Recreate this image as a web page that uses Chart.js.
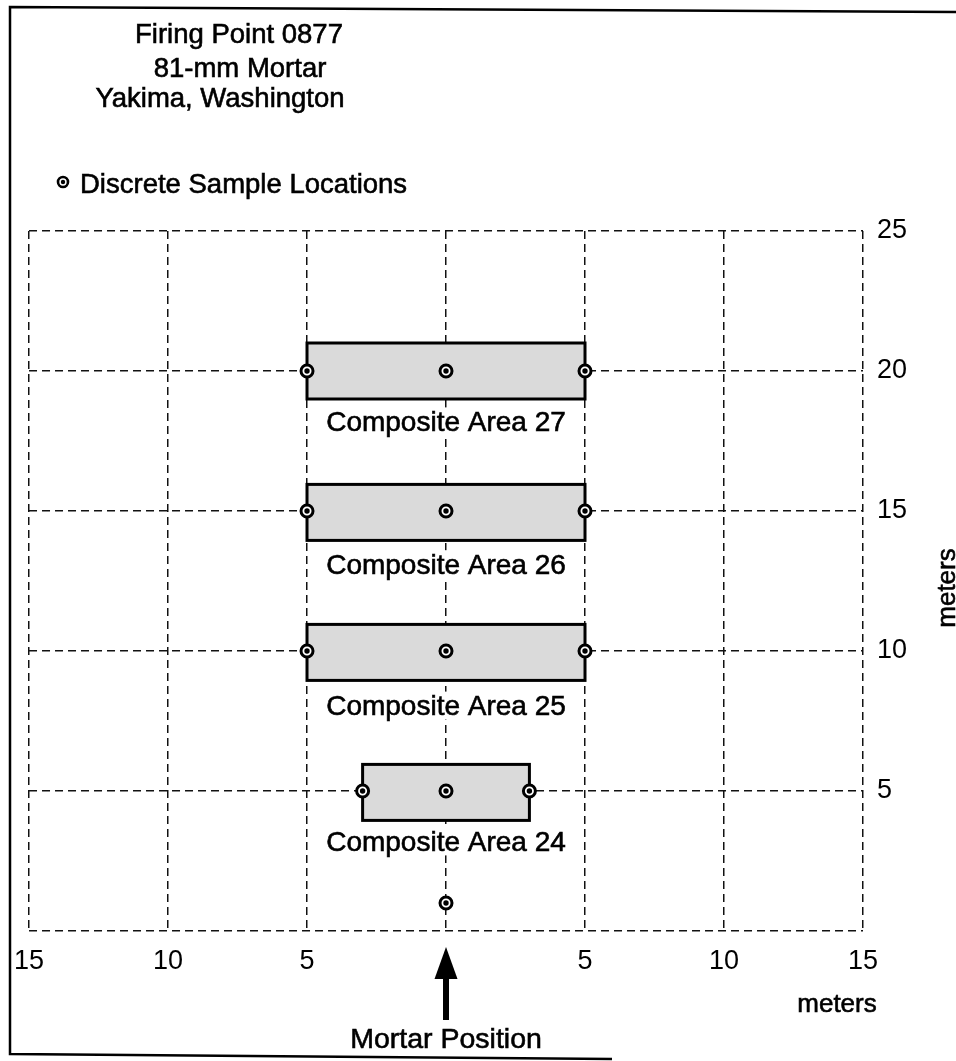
<!DOCTYPE html>
<html>
<head>
<meta charset="utf-8">
<script src="https://cdn.jsdelivr.net/npm/chart.js@4.4.1/dist/chart.umd.min.js"></script>
<style>
  html, body { margin: 0; padding: 0; background: #fff; }
  #wrap { width: 956px; height: 1061px; position: relative; }
</style>
</head>
<body>
<div id="wrap"><canvas id="myChart"></canvas></div>
<script>
// Discrete sample locations (meters: cross-range, down-range from the mortar)
const sampleX = [0, -3, 0, 3, -5, 0, 5, -5, 0, 5, -5, 0, 5];
const sampleY = [1, 5, 5, 5, 10, 10, 10, 15, 15, 15, 20, 20, 20];

// Composite sampling areas
const areaNames = ['Composite Area 24', 'Composite Area 25', 'Composite Area 26', 'Composite Area 27'];
const areaXMin = [-3, -5, -5, -5];
const areaXMax = [3, 5, 5, 5];
const areaYMin = [3.95, 8.95, 13.95, 19.0];
const areaYMax = [5.95, 10.95, 15.95, 21.0];
const areaLabelY = [3.2, 8.05, 13.1, 18.2];

// Axes
const xTicks = [-15, -10, -5, 0, 5, 10, 15];
const yTicks = [0, 5, 10, 15, 20, 25];
const mortarX = 0;

const titleLines = ['Firing Point 0877', '81-mm Mortar', 'Yakima, Washington'];
const legendText = 'Discrete Sample Locations';

const FONT = "'Liberation Sans', Arial, Helvetica, sans-serif";

function drawTarget(ctx, cx, cy, r, lw, dot) {
    ctx.beginPath();
    ctx.arc(cx, cy, r, 0, Math.PI * 2);
    ctx.fillStyle = '#fff';
    ctx.fill();
    ctx.lineWidth = lw;
    ctx.strokeStyle = '#000';
    ctx.stroke();
    ctx.beginPath();
    ctx.arc(cx, cy, dot, 0, Math.PI * 2);
    ctx.fillStyle = '#000';
    ctx.fill();
}

// scanned text looks heavy, so fill plus a thin stroke
function heavyText(ctx, str, tx, ty) {
    ctx.fillStyle = '#000';
    ctx.strokeStyle = '#000';
    ctx.lineWidth = 0.6;
    ctx.fillText(str, tx, ty);
    ctx.strokeText(str, tx, ty);
}

// rectangles + their labels go under the points, texts and frame on top
const sketchPlugin = {
    id: 'sketch',
    beforeDatasetsDraw(chart) {
        const { ctx } = chart;
        const x = chart.scales.x, y = chart.scales.y;
        ctx.save();
        for (let i = 0; i < areaNames.length; i++) {
            const l = x.getPixelForValue(areaXMin[i]);
            const r = x.getPixelForValue(areaXMax[i]);
            const t = y.getPixelForValue(areaYMax[i]);
            const b = y.getPixelForValue(areaYMin[i]);
            ctx.fillStyle = '#dadada';
            ctx.fillRect(l, t, r - l, b - t);
            ctx.lineWidth = 3;
            ctx.strokeStyle = '#000';
            ctx.strokeRect(l, t, r - l, b - t);

            // label with white box so the grid doesn't run through it
            ctx.font = '28px ' + FONT;
            const cx = x.getPixelForValue(0);
            const cy = y.getPixelForValue(areaLabelY[i]);
            const w = ctx.measureText(areaNames[i]).width;
            ctx.fillStyle = '#fff';
            ctx.fillRect(cx - w / 2 - 3, cy - 14, w + 6, 28);
            ctx.textAlign = 'center';
            ctx.textBaseline = 'alphabetic';
            heavyText(ctx, areaNames[i], cx, cy + 9.5);
        }
        ctx.restore();
    },
    afterDraw(chart) {
        const { ctx } = chart;
        const x = chart.scales.x;
        ctx.save();

        // frame (scanned, slightly skewed)
        ctx.strokeStyle = '#000';
        ctx.lineWidth = 2.5;
        ctx.beginPath();
        ctx.moveTo(956, 12);
        ctx.lineTo(10, 7);
        ctx.lineTo(10, 1054);
        ctx.lineTo(612, 1059);
        ctx.stroke();

        // title block
        ctx.textAlign = 'center';
        ctx.textBaseline = 'alphabetic';
        ctx.font = '27.5px ' + FONT;
        heavyText(ctx, titleLines[0], 239, 43);
        heavyText(ctx, titleLines[1], 240, 77);
        heavyText(ctx, titleLines[2], 220, 107);

        // legend
        drawTarget(ctx, 63, 182, 5, 2.6, 2.2);
        ctx.textAlign = 'left';
        ctx.font = '27.5px ' + FONT;
        heavyText(ctx, legendText, 80, 193);

        // axis unit labels
        ctx.textAlign = 'center';
        ctx.font = '26px ' + FONT;
        heavyText(ctx, 'meters', 837, 1012);
        ctx.save();
        ctx.translate(948, 588);
        ctx.rotate(-Math.PI / 2);
        ctx.textBaseline = 'middle';
        heavyText(ctx, 'meters', 0, 0);
        ctx.restore();

        // mortar position arrow
        const ax = x.getPixelForValue(mortarX);
        ctx.fillStyle = '#000';
        ctx.beginPath();
        ctx.moveTo(ax, 947);
        ctx.lineTo(ax + 11.5, 979);
        ctx.lineTo(ax - 11.5, 979);
        ctx.closePath();
        ctx.fill();
        ctx.fillRect(ax - 3, 975, 6, 45);

        ctx.font = '28.5px ' + FONT;
        ctx.textAlign = 'center';
        ctx.textBaseline = 'alphabetic';
        heavyText(ctx, 'Mortar Position', ax, 1048);
        ctx.restore();
    }
};

const points = sampleX.map((v, i) => ({ x: v, y: sampleY[i] }));

const ctx = document.getElementById('myChart').getContext('2d');
const myChart = new Chart(ctx, {
    type: 'scatter',
    data: {
        datasets: [{
            label: 'centre',
            data: points,
            order: 0,
            pointRadius: 2.7,
            pointBorderWidth: 0,
            pointBackgroundColor: '#000'
        }, {
            label: 'Discrete Sample Locations',
            data: points,
            order: 1,
            pointRadius: 6,
            pointBorderWidth: 3,
            pointBackgroundColor: '#fff',
            pointBorderColor: '#000'
        }]
    },
    options: {
        responsive: true,
        maintainAspectRatio: false,
        animation: false,
        layout: { padding: { left: 28, top: 231, right: 33, bottom: 80 } },
        plugins: {
            legend: { display: false },
            tooltip: { enabled: false }
        },
        scales: {
            x: {
                type: 'linear',
                position: 'bottom',
                min: xTicks[0],
                max: xTicks[xTicks.length - 1],
                afterBuildTicks: s => { s.ticks = xTicks.map(v => ({ value: v })); },
                afterFit: s => { s.height = 50; },
                grid: { color: '#111', lineWidth: 1.5, drawTicks: false },
                border: { display: false, dash: [8, 5] },
                ticks: {
                    color: '#000',
                    font: { family: FONT, size: 27 },
                    padding: 14,
                    maxRotation: 0,
                    autoSkip: false,
                    callback: v => v === 0 ? '' : String(Math.abs(v))
                }
            },
            y: {
                type: 'linear',
                position: 'right',
                min: yTicks[0],
                max: yTicks[yTicks.length - 1],
                afterBuildTicks: s => { s.ticks = yTicks.map(v => ({ value: v })); },
                afterFit: s => { s.width = 60; },
                grid: { color: '#111', lineWidth: 1.5, drawTicks: false },
                border: { display: false, dash: [8, 5] },
                ticks: {
                    color: '#000',
                    font: { family: FONT, size: 27 },
                    padding: 14,
                    autoSkip: false,
                    callback: v => v === 0 ? '' : String(v)
                }
            }
        }
    },
    plugins: [sketchPlugin]
});
</script>
</body>
</html>
